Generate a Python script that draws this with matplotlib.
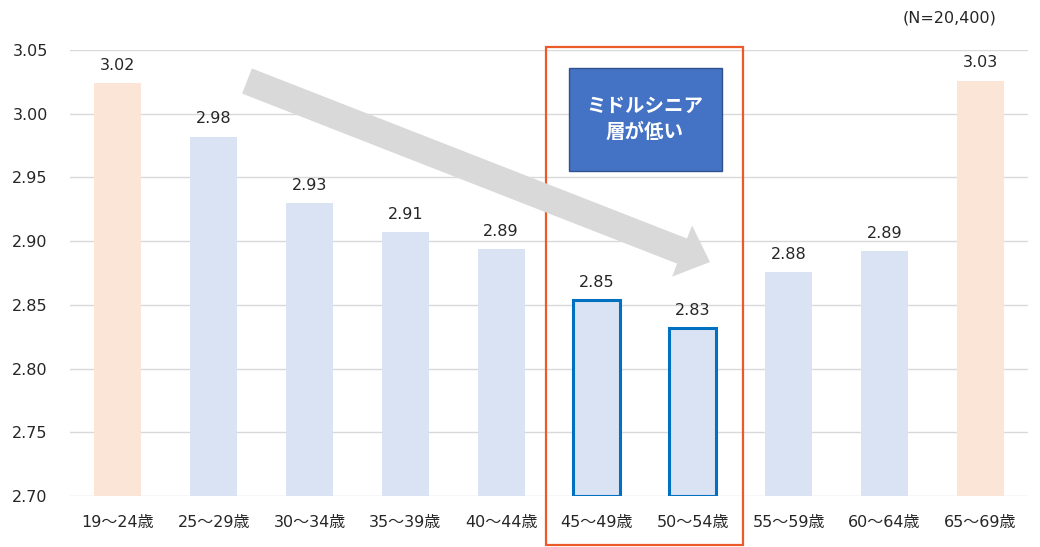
import matplotlib
matplotlib.use("Agg")
import matplotlib.pyplot as plt
from matplotlib.patches import Rectangle, FancyArrow
from matplotlib import transforms

plt.rcParams['font.family'] = ['DejaVu Sans', 'Noto Sans CJK JP']

categories = ["19〜24歳", "25〜29歳", "30〜34歳", "35〜39歳", "40〜44歳",
              "45〜49歳", "50〜54歳", "55〜59歳", "60〜64歳", "65〜69歳"]
values = [3.024, 2.982, 2.930, 2.907, 2.894, 2.854, 2.832, 2.876, 2.892, 3.026]
labels = ["3.02", "2.98", "2.93", "2.91", "2.89", "2.85", "2.83", "2.88", "2.89", "3.03"]
groups = ["edge", "mid", "mid", "mid", "mid", "low", "low", "mid", "mid", "edge"]
yticks = [2.70, 2.75, 2.80, 2.85, 2.90, 2.95, 3.00, 3.05]

fill = {"edge": "#FBE5D6", "mid": "#DAE3F3", "low": "#DAE3F3"}
TXT = "#262626"
FS = 11.5

fig = plt.figure(figsize=(10.4, 5.47), dpi=100)
ax = fig.add_axes([70/1040, 51/547, 958/1040, 446/547])

ymin = 2.70
x = list(range(len(categories)))
for i, (v, g) in enumerate(zip(values, groups)):
    if g == "low":
        ax.bar(i, v - ymin, bottom=ymin, width=0.49, color=fill[g],
               edgecolor="#0070C0", linewidth=2.2, zorder=3)
    else:
        ax.bar(i, v - ymin, bottom=ymin, width=0.49, color=fill[g],
               linewidth=0, zorder=3)
    ax.text(i, v + 0.008, labels[i], ha="center", va="bottom",
            fontsize=FS, color=TXT, zorder=5)

ax.set_xlim(-0.5, len(categories) - 0.5)
ax.set_ylim(2.70, 3.05)
ax.set_yticks(yticks)
ax.set_yticklabels([f"{t:.2f}" for t in yticks], fontsize=FS, color=TXT)
ax.set_xticks(x)
ax.set_xticklabels(categories, fontsize=FS, color=TXT)
ax.tick_params(axis="both", length=0)
ax.tick_params(axis="y", pad=16)
ax.tick_params(axis="x", pad=13.5)
ax.grid(axis="y", color="#D9D9D9", linewidth=1.0, zorder=0)
ax.set_axisbelow(True)
for s in ax.spines.values():
    s.set_visible(False)

# highlight frame (orange)
ax.add_patch(Rectangle((4.47, 2.6615), 6.53 - 4.47, 3.0524 - 2.6615,
                       fill=False, edgecolor="#EB5A28", linewidth=1.6,
                       clip_on=False, zorder=6))

# blue callout box
ax.add_patch(Rectangle((4.71, 2.955), 6.31 - 4.71, 3.036 - 2.955,
                       facecolor="#4472C4", edgecolor="#2F528F", linewidth=1.0,
                       clip_on=False, zorder=7))
ax.text(5.5, 2.9955, "ミドルシニア\n層が低い", ha="center", va="center",
        color="white", fontsize=14, fontweight="bold", linespacing=1.4,
        family=["Noto Sans CJK JP"], zorder=8)

# gray arrow in pixel coordinates (top-left origin)
pix = transforms.Affine2D().scale(1/1040, -1/547).translate(0, 1) + fig.transFigure
arrow = FancyArrow(247, 81, 463, 181, width=27, head_width=55, head_length=30,
                   length_includes_head=True, color="#D9D9D9", linewidth=0,
                   transform=pix, zorder=4)
fig.add_artist(arrow)

fig.text(996/1040, 1 - 18/547, "(N=20,400)", ha="right", va="center",
         fontsize=FS, color=TXT)

fig.savefig("out.png", dpi=100)
